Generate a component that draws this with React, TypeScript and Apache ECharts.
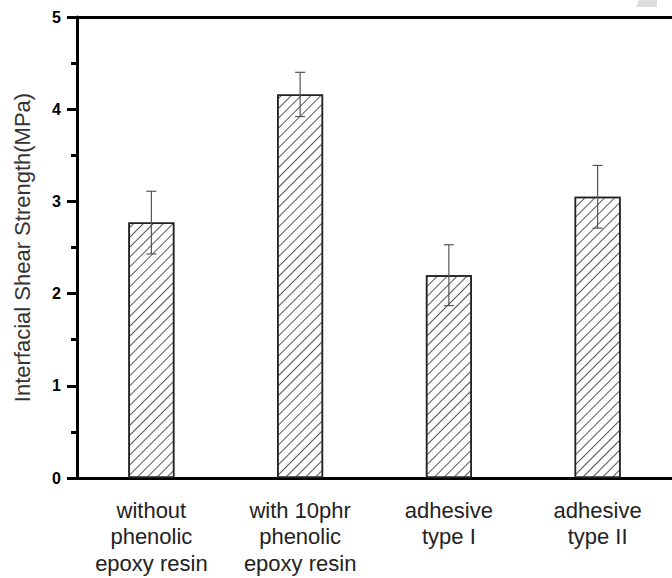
import React, { useEffect, useRef } from "react";
import * as echarts from "echarts";

const categories = [
  "without\nphenolic\nepoxy resin",
  "with 10phr\nphenolic\nepoxy resin",
  "adhesive\ntype I",
  "adhesive\ntype II",
];
const values = [2.77, 4.16, 2.2, 3.05];
const errLow = [2.43, 3.92, 1.87, 2.71];
const errHigh = [3.11, 4.4, 2.53, 3.39];
const yTicks = [0, 1, 2, 3, 4, 5];
const yTitle = "Interfacial Shear Strength(MPa)";

export default function App() {
  const ref = useRef<HTMLDivElement>(null);
  useEffect(() => {
    if (!ref.current) return;
    const chart = echarts.init(ref.current, undefined, { renderer: "svg" });
    const font = "'Liberation Sans', Arial, Helvetica, sans-serif";
    chart.setOption({
      animation: false,
      backgroundColor: "#fff",
      grid: { left: 77, top: 17, width: 606, height: 461, containLabel: false },
      xAxis: [
        {
          type: "category",
          data: categories,
          axisLine: { lineStyle: { color: "#000", width: 3 } },
          axisTick: { show: false },
          axisLabel: {
            interval: 0,
            color: "#222",
            fontFamily: font,
            fontSize: 22,
            lineHeight: 26.5,
            margin: 19,
          },
        },
        {
          type: "category",
          position: "top",
          data: categories,
          axisLine: { lineStyle: { color: "#000", width: 3 } },
          axisTick: { show: false },
          axisLabel: { show: false },
        },
      ],
      yAxis: {
        type: "value",
        min: yTicks[0],
        max: yTicks[yTicks.length - 1],
        interval: 1,
        name: yTitle,
        nameLocation: "middle",
        nameGap: 44,
        nameTextStyle: { color: "#333", fontFamily: font, fontSize: 22 },
        axisLine: { show: true, lineStyle: { color: "#000", width: 3 } },
        axisTick: { show: true, length: 10, lineStyle: { color: "#000", width: 3 } },
        minorTick: { show: true, splitNumber: 2, length: 6, lineStyle: { color: "#000", width: 3 } },
        splitLine: { show: false },
        axisLabel: {
          color: "#000",
          fontFamily: font,
          fontWeight: "bold",
          fontSize: 16,
          margin: 16,
        },
      },
      graphic: [
        {
          type: "polygon",
          shape: { points: [[639, 0], [657, 0], [657, 7], [636, 7]] },
          style: { fill: "#ddd" },
          silent: true,
        },
      ],
      series: [
        {
          type: "bar",
          data: values,
          barWidth: 46,
          itemStyle: {
            color: "#fff",
            borderColor: "#222",
            borderWidth: 1.5,
            decal: {
              symbol: "rect",
              symbolSize: 1,
              color: "#555",
              backgroundColor: "#fff",
              dashArrayX: [1, 0],
              dashArrayY: [1, 6],
              rotation: -Math.PI / 4,
            },
          },
        },
        {
          type: "custom",
          data: values.map((_, i) => [i, errLow[i], errHigh[i]]),
          renderItem: (params: any, api: any) => {
            const i = api.value(0);
            const lo = api.coord([i, api.value(1)]);
            const hi = api.coord([i, api.value(2)]);
            const cap = 5;
            const style = { stroke: "#555", lineWidth: 1.2 };
            return {
              type: "group",
              children: [
                { type: "line", shape: { x1: hi[0], y1: hi[1], x2: lo[0], y2: lo[1] }, style },
                { type: "line", shape: { x1: hi[0] - cap, y1: hi[1], x2: hi[0] + cap, y2: hi[1] }, style },
                { type: "line", shape: { x1: lo[0] - cap, y1: lo[1], x2: lo[0] + cap, y2: lo[1] }, style },
              ],
            };
          },
          z: 5,
        },
      ],
    });
    return () => chart.dispose();
  }, []);
  return <div ref={ref} style={{ width: 672, height: 578, position: "absolute", left: 0, top: 0 }} />;
}
